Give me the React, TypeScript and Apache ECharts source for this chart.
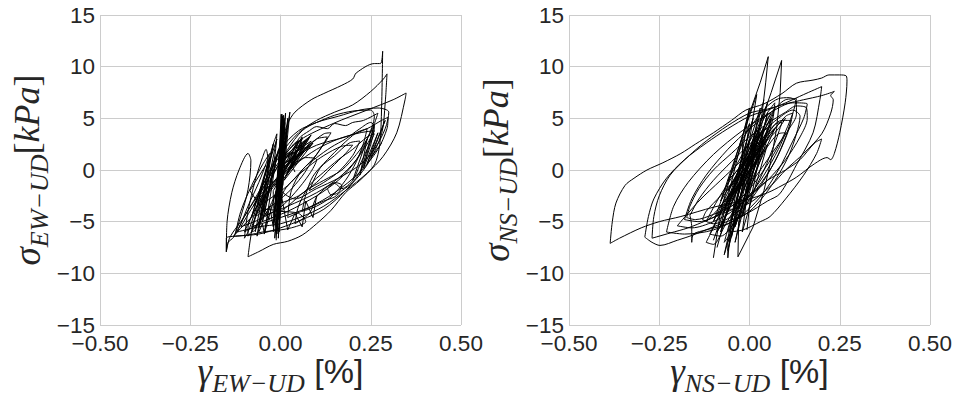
import React, { useEffect, useRef } from "react";
import * as echarts from "echarts";

// ---------- axis ticks ----------
const xTickInterval = 0.25;
const xMin = -0.5;
const xMax = 0.5;
const yTickInterval = 5;
const yMin = -15;
const yMax = 15;

// ---------- EW-UD panel (gamma %, sigma kPa) : hysteresis loops ----------
const ewLoop1 = [[-0.09,-8.4],[-0.06,-7.9],[-0.02,-7.2],[0.02,-6.9],[0.06,-6.3],[0.1,-5.2],[0.14,-3.9],[0.18,-2.2],[0.22,-1.0],[0.26,0.5],[0.275,2.5],[0.28,6.0],[0.283,11.5],[0.277,10.3],[0.26,10.3],[0.21,9.4],[0.2,8.8],[0.17,8.2],[0.12,7.4],[0.085,6.8],[0.04,5.6],[0.02,4.5],[0.0,2.5],[-0.03,-0.5],[-0.06,-3.5],[-0.08,-6.0],[-0.09,-8.4]];
const ewLoop2 = [[-0.15,-7.9],[-0.15,-6.6],[-0.12,-6.4],[-0.06,-6.2],[0.0,-5.6],[0.06,-4.8],[0.12,-3.8],[0.18,-2.0],[0.24,0.5],[0.28,3.5],[0.29,6.5],[0.295,9.3],[0.285,8.8],[0.25,7.6],[0.2,6.3],[0.15,5.6],[0.1,4.8],[0.05,3.6],[0.0,1.5],[-0.05,-1.5],[-0.1,-4.5],[-0.14,-6.5],[-0.15,-7.9]];
const ewLoop3 = [[-0.12,-6.0],[-0.06,-5.5],[0.0,-5.2],[0.06,-4.5],[0.12,-3.5],[0.18,-2.0],[0.24,-0.3],[0.284,1.3],[0.322,3.6],[0.345,6.8],[0.348,7.45],[0.312,6.8],[0.24,5.8],[0.146,4.5],[0.054,2.9],[0.0,1.0],[-0.05,-1.8],[-0.1,-4.5],[-0.12,-6.0]];
const ewLoop4 = [[-0.08,-5.5],[0.0,-4.6],[0.08,-3.6],[0.15,-2.2],[0.22,-0.2],[0.27,2.0],[0.295,4.0],[0.298,5.1],[0.28,4.8],[0.24,4.0],[0.18,3.2],[0.1,2.4],[0.04,1.2],[0.0,-0.5],[-0.05,-3.0],[-0.08,-5.5]];
const ewLoop5 = [[-0.05,-4.5],[0.02,-3.5],[0.1,-2.2],[0.16,-0.8],[0.21,1.0],[0.24,3.0],[0.26,5.2],[0.25,5.8],[0.2,5.7],[0.15,5.3],[0.1,4.6],[0.05,3.8],[0.0,2.0],[-0.03,-0.5],[-0.05,-4.5]];
const ewLoop6 = [[-0.15,-7.9],[-0.148,-5.0],[-0.135,-2.2],[-0.115,0.0],[-0.09,1.6],[-0.082,0.9],[-0.09,-1.9],[-0.11,-4.5],[-0.13,-6.5],[-0.145,-7.0],[-0.15,-7.9]];
const ewLoop7 = [[-0.1,-6.6],[-0.09,-4.0],[-0.07,-1.0],[-0.05,1.2],[-0.04,2.0],[-0.035,1.0],[-0.05,-1.5],[-0.07,-4.0],[-0.09,-6.0],[-0.1,-6.6]];
const ewLoop8 = [[-0.08,-6.0],[-0.06,-3.0],[-0.04,0.0],[-0.02,2.5],[-0.01,3.5],[-0.015,1.5],[-0.03,-1.5],[-0.05,-4.0],[-0.07,-5.8],[-0.08,-6.0]];
const ewLoop9 = [[0.02,-4.6],[0.07,-3.8],[0.12,-3.0],[0.15,-2.6],[0.17,-2.0],[0.2,-1.2],[0.23,0.5],[0.25,2.5],[0.26,4.2],[0.25,4.6],[0.22,4.0],[0.18,3.0],[0.14,2.2],[0.1,1.2],[0.06,0.0],[0.03,-2.0],[0.02,-4.6]];
const ewLoop10 = [[0.04,-5.2],[0.08,-4.2],[0.1,-2.6],[0.13,-1.6],[0.15,-1.3],[0.17,-1.8],[0.2,-1.0],[0.22,0.5],[0.24,2.0],[0.26,3.5],[0.24,3.2],[0.2,2.0],[0.16,1.0],[0.12,-0.2],[0.08,-1.5],[0.05,-3.5],[0.04,-5.2]];
const ewLoop11 = [[-0.02,-2.0],[0.02,0.5],[0.05,3.0],[0.08,3.8],[0.1,4.2],[0.13,4.0],[0.15,4.5],[0.18,4.3],[0.2,4.6],[0.23,4.8],[0.27,5.5],[0.26,4.5],[0.24,3.0],[0.21,1.5],[0.17,0.0],[0.12,-1.0],[0.07,-2.0],[0.02,-3.5],[-0.02,-4.5],[-0.02,-2.0]];
const ewLoop12 = [[-0.09,-6.4],[-0.07,-5.5],[-0.04,-4.2],[-0.02,-2.8],[0.0,-1.0],[0.03,1.0],[0.06,2.6],[0.05,2.8],[0.02,1.8],[-0.01,0.2],[-0.04,-1.8],[-0.07,-3.8],[-0.09,-5.6],[-0.09,-6.4]];
const ewLoop13 = [[-0.1,-6.0],[-0.05,-5.0],[0.02,-4.0],[0.1,-2.5],[0.16,-1.0],[0.2,0.5],[0.24,2.5],[0.26,3.8],[0.22,3.6],[0.16,3.0],[0.1,2.0],[0.04,0.5],[-0.02,-1.5],[-0.07,-3.8],[-0.1,-6.0]];
const ewLoop14 = [[-0.03,-1.0],[0.02,2.0],[0.06,3.8],[0.1,4.6],[0.16,5.2],[0.22,5.8],[0.27,6.0],[0.3,5.6],[0.29,4.0],[0.26,2.0],[0.22,0.5],[0.16,-0.8],[0.1,-1.8],[0.04,-2.8],[-0.03,-1.0]];
const ewLoop15 = [[0.0,-3.2],[0.05,-2.5],[0.1,-1.2],[0.14,0.2],[0.18,1.6],[0.2,2.4],[0.17,2.3],[0.12,1.4],[0.08,0.4],[0.04,-0.8],[0.01,-2.0],[0.0,-3.2]];
const ewLoop16 = [[-0.06,-3.5],[-0.03,-2.8],[0.02,-1.5],[0.06,0.0],[0.1,1.5],[0.13,3.2],[0.1,3.0],[0.06,1.8],[0.02,0.4],[-0.02,-1.2],[-0.06,-3.5]];
const ewLoop17 = [[-0.125,-6.2],[-0.11,-4.0],[-0.08,-1.5],[-0.05,0.5],[-0.03,1.6],[-0.04,0.6],[-0.06,-1.2],[-0.09,-3.5],[-0.11,-5.2],[-0.125,-6.2]];
const ewLoop18 = [[-0.13,-6.4],[-0.09,-6.3],[-0.05,-6.0],[0.0,-5.8],[0.04,-5.5],[0.07,-5.0],[0.05,-4.2],[0.0,-4.0],[-0.04,-3.8],[-0.08,-4.6],[-0.13,-6.4]];
const ewLoop19 = [[-0.07,-4.5],[-0.03,-3.6],[0.02,-2.2],[0.06,-0.6],[0.09,1.0],[0.12,2.5],[0.14,3.6],[0.12,3.5],[0.08,2.4],[0.04,1.0],[0.0,-0.8],[-0.04,-2.6],[-0.07,-4.5]];
const ewLoop20 = [[0.06,-4.0],[0.1,-3.5],[0.14,-2.6],[0.18,-1.0],[0.21,0.8],[0.23,2.6],[0.24,4.0],[0.21,3.6],[0.17,2.4],[0.13,1.0],[0.09,-0.6],[0.07,-2.4],[0.06,-4.0]];
const ewLoop21 = [[0.08,-2.0],[0.12,-1.2],[0.16,-0.2],[0.2,1.4],[0.22,2.8],[0.19,2.6],[0.15,1.4],[0.11,0.2],[0.08,-2.0]];
const ewLoop22 = [[-0.11,-5.5],[-0.06,-4.8],[0.0,-3.6],[0.04,-2.2],[0.08,-0.4],[0.1,1.0],[0.07,1.2],[0.02,0.0],[-0.03,-1.6],[-0.07,-3.2],[-0.11,-5.5]];
const ewKnot = [[0.13,-1.8],[0.15,-1.2],[0.17,-1.5],[0.16,-2.2],[0.14,-2.4],[0.13,-1.8]];
const ewBottom = [[-0.06,-6.0],[-0.05,-5.2],[-0.045,-6.1],[-0.03,-3.5],[-0.02,-5.5],[0.0,-2.0],[0.02,-5.8],[0.04,-4.2],[0.06,-5.5],[0.07,-3.0],[0.09,-4.6],[0.1,-2.5]];
const ewSpike = [[-0.012,-6.8],[0.004,5.4],[-0.006,-4.8],[0.008,5.3],[-0.01,-6.2],[0.012,4.6],[-0.003,-3.5],[0.002,5.4],[-0.016,-6.6],[0.018,3.8],[-0.008,-2.6],[0.026,5.6],[0.006,-1.5],[0.006,4.2],[-0.02,-5.2],[0.012,2.8],[-0.004,-4.2],[0.01,5.0],[-0.014,-3.0],[0.004,3.4],[-0.01,-1.2],[0.016,4.0],[0.0,-2.4],[0.008,2.0]];
const ewSpike2 = [[-0.02,-6.0],[0.006,5.2],[-0.012,-5.5],[0.01,4.8],[-0.006,-6.6],[0.014,5.5],[-0.018,-4.4],[0.003,4.4],[-0.01,-5.8],[0.02,5.0],[-0.004,-6.0],[0.008,3.6],[-0.015,-3.8],[0.012,4.2]];
const ewWedge = [[0.0,-0.5],[0.06,2.6],[0.01,0.2],[0.075,3.0],[0.0,0.8],[0.085,2.8],[0.02,0.0],[0.07,2.2],[0.005,1.2],[0.08,3.2],[0.015,-0.6],[0.065,1.8],[0.0,0.4],[0.05,2.8],[0.03,0.6],[0.09,2.6],[0.01,-1.0],[0.06,3.0],[0.02,1.5],[0.04,-0.2]];
const ewWedge2 = [[0.01,-0.8],[0.07,2.8],[0.02,-0.2],[0.08,2.4],[0.0,0.0],[0.06,3.2],[0.03,0.2],[0.085,3.4],[0.01,0.6],[0.05,1.6]];
const ewLeftDense = [[-0.07,-6.0],[-0.02,2.5],[-0.06,-5.6],[-0.01,3.0],[-0.08,-4.5],[-0.03,1.2],[-0.065,-6.4],[-0.005,2.0],[-0.05,-5.0],[-0.02,0.0],[-0.075,-3.5],[-0.01,1.5],[-0.045,-6.2],[0.0,-0.5],[-0.06,-2.5],[-0.03,-4.8],[-0.085,-2.0],[-0.04,0.5]];
const ewMid = [[0.2,-1.0],[0.24,3.0],[0.22,-0.5],[0.26,4.4],[0.23,0.2],[0.27,3.6],[0.24,0.6],[0.29,4.8],[0.25,1.2],[0.28,2.6]];

// ---------- NS-UD panel ----------
const nsLoop1 = [[-0.386,-7.1],[-0.36,-6.6],[-0.3,-5.6],[-0.25,-5.0],[-0.19,-4.5],[-0.1,-3.6],[-0.01,-2.9],[0.05,-2.2],[0.09,-1.5],[0.13,-0.7],[0.18,0.6],[0.215,1.2],[0.225,1.0],[0.235,1.6],[0.25,3.6],[0.265,6.5],[0.27,8.6],[0.268,9.1],[0.25,9.2],[0.22,9.2],[0.2,8.9],[0.176,8.7],[0.13,8.4],[0.09,7.4],[0.04,6.4],[-0.01,5.8],[-0.05,4.8],[-0.1,3.6],[-0.15,2.5],[-0.19,1.6],[-0.24,0.7],[-0.284,0.0],[-0.32,-0.8],[-0.345,-1.5],[-0.37,-3.2],[-0.38,-5.0],[-0.386,-7.1]];
const nsLoop2 = [[-0.29,-6.5],[-0.27,-7.0],[-0.248,-7.3],[-0.2,-6.8],[-0.157,-6.3],[-0.1,-5.5],[-0.007,-4.2],[0.05,-3.0],[0.084,-2.3],[0.13,0.5],[0.176,3.6],[0.195,6.8],[0.2,8.07],[0.15,7.3],[0.1,6.5],[0.05,5.8],[0.0,5.2],[-0.06,4.0],[-0.12,2.6],[-0.18,1.0],[-0.23,-0.8],[-0.265,-2.8],[-0.28,-4.5],[-0.29,-6.5]];
const nsLoop3 = [[-0.27,-6.6],[-0.22,-6.1],[-0.17,-5.6],[-0.12,-4.9],[-0.06,-4.0],[0.0,-3.2],[0.06,-1.5],[0.1,0.0],[0.15,1.6],[0.2,3.5],[0.225,5.5],[0.232,6.8],[0.225,7.2],[0.235,7.6],[0.2,7.2],[0.15,6.8],[0.1,6.4],[0.05,5.9],[0.0,5.5],[-0.06,4.3],[-0.12,2.8],[-0.17,1.3],[-0.22,-0.5],[-0.25,-2.5],[-0.265,-4.5],[-0.27,-6.6]];
const nsLoop4 = [[-0.174,-4.6],[-0.15,-4.8],[-0.1,-4.3],[-0.05,-3.5],[0.0,-2.5],[0.05,-1.0],[0.1,1.0],[0.14,3.2],[0.16,5.0],[0.158,6.0],[0.13,6.2],[0.1,5.6],[0.05,4.5],[0.0,3.2],[-0.05,1.6],[-0.1,0.0],[-0.14,-1.8],[-0.165,-3.5],[-0.174,-4.6]];
const nsLoop5 = [[-0.165,-4.4],[-0.16,-5.5],[-0.16,-7.0],[-0.155,-6.2],[-0.12,-5.8],[-0.06,-5.2],[0.0,-4.0],[0.04,-2.5],[0.08,-0.5],[0.11,1.5],[0.13,3.5],[0.14,5.2],[0.12,5.8],[0.08,5.0],[0.04,3.8],[0.0,2.5],[-0.05,0.8],[-0.1,-1.0],[-0.14,-2.8],[-0.165,-4.4]];
const nsLoop6 = [[-0.06,-6.0],[-0.018,-5.8],[0.03,-5.0],[0.057,-4.5],[0.1,-2.8],[0.15,-0.5],[0.186,1.6],[0.2,3.0],[0.18,2.6],[0.14,1.0],[0.1,0.0],[0.05,-1.0],[0.0,-2.5],[-0.04,-4.0],[-0.06,-6.0]];
const nsLoop7 = [[-0.13,-4.8],[-0.1,-5.2],[-0.05,-4.5],[0.0,-3.0],[0.04,-1.0],[0.08,1.5],[0.11,4.0],[0.12,5.5],[0.1,5.2],[0.06,3.5],[0.02,1.5],[-0.03,-0.5],[-0.08,-2.5],[-0.12,-4.0],[-0.13,-4.8]];
const nsLoop8 = [[-0.18,-4.8],[-0.14,-5.0],[-0.08,-4.2],[-0.02,-2.6],[0.04,0.0],[0.09,3.0],[0.12,5.5],[0.13,6.9],[0.1,6.8],[0.06,5.6],[0.0,4.0],[-0.06,2.0],[-0.12,-0.5],[-0.16,-2.8],[-0.18,-4.8]];
const nsLoop9 = [[-0.23,-6.0],[-0.18,-6.2],[-0.1,-5.8],[-0.03,-4.6],[0.03,-2.6],[0.08,0.0],[0.12,2.8],[0.15,5.0],[0.16,6.4],[0.12,6.5],[0.06,5.6],[-0.02,3.8],[-0.1,1.5],[-0.17,-1.2],[-0.21,-3.5],[-0.23,-6.0]];
const nsLoop10 = [[-0.12,-7.0],[-0.1,-7.2],[-0.07,-5.5],[-0.03,-3.0],[0.0,-0.5],[0.03,2.0],[0.05,4.0],[0.03,3.6],[0.0,1.5],[-0.04,-1.5],[-0.08,-4.2],[-0.12,-7.0]];
const nsLoop11 = [[-0.2,-5.4],[-0.16,-5.6],[-0.1,-5.0],[-0.04,-3.8],[0.02,-1.8],[0.07,0.8],[0.1,3.2],[0.115,4.8],[0.09,4.8],[0.04,3.2],[-0.02,1.0],[-0.08,-1.0],[-0.14,-3.0],[-0.2,-5.4]];
const nsLoop12 = [[-0.11,-6.2],[-0.08,-6.4],[-0.04,-5.0],[0.0,-2.8],[0.04,0.0],[0.07,2.6],[0.09,4.6],[0.07,4.4],[0.03,2.2],[-0.01,-0.2],[-0.05,-2.6],[-0.09,-4.8],[-0.11,-6.2]];
const nsLoop13 = [[-0.08,-3.5],[-0.05,-3.8],[0.0,-2.4],[0.04,-0.5],[0.08,2.0],[0.1,3.6],[0.08,3.5],[0.04,1.8],[0.0,0.0],[-0.04,-1.8],[-0.08,-3.5]];
const nsSmall1 = [[-0.09,-6.0],[-0.06,-4.0],[-0.03,-1.5],[0.0,1.0],[0.03,3.5],[0.06,5.5],[0.05,5.0],[0.02,2.5],[-0.01,0.0],[-0.04,-2.5],[-0.07,-4.8],[-0.09,-6.0]];
const nsSmall2 = [[-0.07,-7.0],[-0.05,-4.5],[-0.02,-1.0],[0.01,2.5],[0.04,5.0],[0.07,6.5],[0.065,5.0],[0.04,2.0],[0.01,-1.0],[-0.02,-3.5],[-0.05,-6.0],[-0.07,-7.0]];
const nsSmall3 = [[-0.12,-5.0],[-0.08,-3.5],[-0.04,-1.5],[0.0,0.5],[0.04,2.5],[0.08,4.0],[0.1,5.0],[0.08,4.4],[0.04,3.0],[0.0,1.5],[-0.05,-0.8],[-0.09,-3.0],[-0.12,-5.0]];
const nsTop = [[-0.02,3.0],[0.02,5.0],[0.05,6.2],[0.08,6.9],[0.11,7.0],[0.13,6.6],[0.13,5.4],[0.11,4.0],[0.08,2.5],[0.05,1.0],[0.02,-0.5],[-0.01,-2.0],[-0.02,3.0]];
const nsSpike = [[-0.1,-8.5],[-0.08,-4.0],[-0.04,1.0],[0.0,5.5],[0.03,8.5],[0.052,10.97],[0.045,8.5],[0.035,5.5],[0.02,2.5],[0.0,-1.0],[-0.03,-4.5],[-0.06,-7.0],[-0.06,-8.5],[-0.05,-5.0],[-0.02,-1.0],[0.02,3.5],[0.06,7.5],[0.089,10.6],[0.085,7.5],[0.075,4.0],[0.06,1.0],[0.04,-2.0],[0.01,-5.5],[-0.032,-8.4],[-0.03,-5.0],[-0.01,-2.0],[0.01,1.0],[0.04,4.0],[0.02,0.0],[0.0,-3.5],[-0.007,-5.8]];
const nsDense1 = [[-0.09,-7.5],[0.01,5.0],[-0.08,-6.0],[0.03,6.0],[-0.06,-7.8],[0.02,3.5],[-0.1,-5.0],[0.0,4.5],[-0.05,-6.5],[0.05,6.5],[-0.07,-4.0],[0.04,3.0],[-0.04,-5.5],[0.06,5.0],[-0.08,-3.0],[0.02,7.3],[-0.03,-3.8],[0.07,4.0],[-0.06,-2.0],[0.01,2.0],[-0.02,-6.0],[0.05,2.5],[-0.09,-4.5],[0.0,1.0]];
const nsDense2 = [[-0.05,-3.0],[0.03,3.5],[-0.03,-2.0],[0.05,3.0],[-0.06,-1.0],[0.02,4.0],[-0.04,-3.5],[0.04,2.0],[-0.02,-1.5],[0.06,4.5],[-0.05,-2.5],[0.01,2.5]];
const nsDense3 = [[-0.1,-6.8],[0.0,3.0],[-0.07,-8.2],[0.03,4.5],[-0.04,-7.0],[0.05,5.5],[-0.02,-4.5],[0.07,6.0],[-0.08,-5.5],[0.0,6.0],[-0.05,-4.8],[0.04,6.8]];

const ewLoops = [ewLoop1, ewLoop2, ewLoop3, ewLoop4, ewLoop5, ewLoop6, ewLoop7, ewLoop8, ewLoop9, ewLoop10, ewLoop11, ewLoop12, ewLoop13, ewLoop14, ewLoop15, ewLoop16, ewLoop17, ewLoop18, ewLoop19, ewLoop20, ewLoop21, ewLoop22, ewKnot];
const ewStrokes = [ewBottom, ewSpike, ewSpike2, ewWedge, ewWedge2, ewLeftDense, ewMid];
const nsLoops = [nsLoop1, nsLoop2, nsLoop3, nsLoop4, nsLoop5, nsLoop6, nsLoop7, nsLoop8, nsLoop9, nsLoop10, nsLoop11, nsLoop12, nsLoop13, nsSmall1, nsSmall2, nsSmall3, nsTop];
const nsStrokes = [nsSpike, nsDense1, nsDense2, nsDense3];

const TICK_COLOR = "#262626";
const GRID_COLOR = "#cccccc";
const SANS = "'Liberation Sans', Arial, sans-serif";
const SERIF = "'Liberation Serif', 'Times New Roman', serif";

const minusFmt = (v: number, d: number) => (v < 0 ? "\u2212" : "") + Math.abs(v).toFixed(d);

const richStyles = {
  s: { fontFamily: SERIF, fontStyle: "italic", fontSize: 37, lineHeight: 50, color: TICK_COLOR },
  sub: { fontFamily: SERIF, fontStyle: "italic", fontSize: 26, lineHeight: 26, verticalAlign: "bottom", color: TICK_COLOR },
  b: { fontFamily: SERIF, fontSize: 36, lineHeight: 50, color: TICK_COLOR },
  i: { fontFamily: SERIF, fontStyle: "italic", fontSize: 36, lineHeight: 50, color: TICK_COLOR },
  p: { fontFamily: SANS, fontSize: 34, lineHeight: 50, color: TICK_COLOR },
};

function makeXAxis(gridIndex: number, comp: string) {
  return {
    type: "value",
    gridIndex,
    min: xMin,
    max: xMax,
    interval: xTickInterval,
    name: `{s|γ}{sub|${comp}}{p| [%]}`,
    nameLocation: "middle",
    nameGap: 21,
    nameMoveOverlap: false,
    nameTextStyle: { rich: richStyles },
    axisLine: { show: true, lineStyle: { color: GRID_COLOR, width: 1 } },
    axisTick: { show: false },
    axisLabel: { fontFamily: SANS, fontSize: 22.5, color: TICK_COLOR, margin: 7, formatter: (v: number) => minusFmt(v, 2) },
    splitLine: { show: true, lineStyle: { color: GRID_COLOR, width: 1 } },
  };
}

function makeYAxis(gridIndex: number, comp: string) {
  return {
    type: "value",
    gridIndex,
    min: yMin,
    max: yMax,
    interval: yTickInterval,
    name: `{s|σ}{sub|${comp}}{b|[}{i|kPa}{b|]}`,
    nameLocation: "middle",
    nameRotate: 90,
    nameGap: 48,
    nameMoveOverlap: false,
    nameTextStyle: { rich: richStyles },
    axisLine: { show: true, lineStyle: { color: GRID_COLOR, width: 1 } },
    axisTick: { show: false },
    axisLabel: { fontFamily: SANS, fontSize: 22.5, color: TICK_COLOR, margin: 5, formatter: (v: number) => minusFmt(v, 0) },
    splitLine: { show: true, lineStyle: { color: GRID_COLOR, width: 1 } },
  };
}

function curveSeries(curves: number[][][], idx: number, smooth: number) {
  return curves.map((data) => ({
    type: "line",
    xAxisIndex: idx,
    yAxisIndex: idx,
    data,
    symbol: "none",
    showSymbol: false,
    silent: true,
    smooth,
    lineStyle: { color: "#000000", width: 1 },
  }));
}

export default function App() {
  const ref = useRef<HTMLDivElement>(null);
  useEffect(() => {
    if (!ref.current) return;
    const chart = echarts.init(ref.current, null, { renderer: "svg" });
    chart.setOption({
      animation: false,
      backgroundColor: "#ffffff",
      grid: [
        { left: 100, top: 15, width: 361, height: 310, outerBoundsMode: "none", containLabel: false },
        { left: 569, top: 15, width: 361, height: 310, outerBoundsMode: "none", containLabel: false },
      ],
      xAxis: [makeXAxis(0, "EW\u2212UD"), makeXAxis(1, "NS\u2212UD")],
      yAxis: [makeYAxis(0, "EW\u2212UD"), makeYAxis(1, "NS\u2212UD")],
      series: [
        ...curveSeries(ewLoops, 0, 0.3),
        ...curveSeries(ewStrokes, 0, 0),
        ...curveSeries(nsLoops, 1, 0.3),
        ...curveSeries(nsStrokes, 1, 0),
      ],
    });
    return () => chart.dispose();
  }, []);
  return <div ref={ref} style={{ position: "fixed", left: 0, top: 0, width: 955, height: 396 }} />;
}
